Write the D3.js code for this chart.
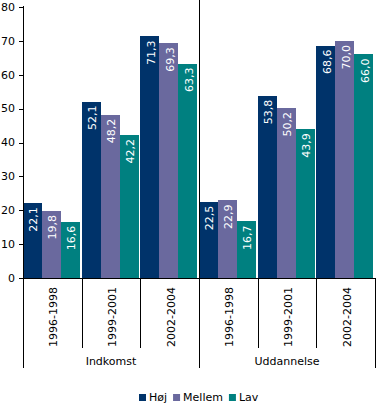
<!DOCTYPE html>
<html>
<head>
<meta charset="utf-8">
<script src="https://cdn.jsdelivr.net/npm/d3@7"></script>
<style>
  body { margin: 0; background: #ffffff; }
  svg { display: block; font-family: "DejaVu Sans", Verdana, sans-serif; }
</style>
</head>
<body>
<svg id="chart" width="380" height="404"></svg>
<script>
var groups = ["Indkomst", "Uddannelse"];
var periods = ["1996-1998", "1999-2001", "2002-2004"];
var series = ["Høj", "Mellem", "Lav"];
var colors = ["#00336a", "#6a699e", "#008080"];
var yTicks = [0, 10, 20, 30, 40, 50, 60, 70, 80];

// values per series, in order Indkomst x periods, then Uddannelse x periods
var hoj    = [22.1, 52.1, 71.3, 22.5, 53.8, 68.6];
var mellem = [19.8, 48.2, 69.3, 22.9, 50.2, 70.0];
var lav    = [16.6, 42.2, 63.3, 16.7, 43.9, 66.0];

var seriesValues = [hoj, mellem, lav];

var svg = d3.select("#chart");
// note: "top" is taken by window.top, so use plot* names
var plotLeft = 23, plotRight = 375, plotTop = 7, plotBottom = 278;

var categories = [];
groups.forEach(function(g) {
    periods.forEach(function(p) { categories.push(g + "|" + p); });
});

var x = d3.scaleBand().domain(categories).range([plotLeft, plotRight]);
var xs = d3.scaleBand().domain(series).range([0, x.bandwidth() - 1.5]);
var y = d3.scaleLinear().domain([0, 80]).range([plotBottom, plotTop]);

// bars
var barData = [];
categories.forEach(function(c, i) {
    series.forEach(function(s, j) {
        barData.push({cat: c, series: s, idx: j, value: seriesValues[j][i]});
    });
});

var bars = svg.append("g").selectAll("g")
  .data(barData)
  .enter()
  .append("g");

bars.append("rect")
    .attr("x", function(d) { return Math.round(x(d.cat) + xs(d.series)); })
    .attr("y", function(d) { return Math.round(y(d.value)); })
    .attr("width", function(d) { return Math.round(xs.bandwidth()); })
    .attr("height", function(d) { return plotBottom - Math.round(y(d.value)); })
    .attr("fill", function(d) { return colors[d.idx]; })
    .attr("shape-rendering", "crispEdges");

bars.append("text")
    .attr("transform", function(d) {
        var cx = x(d.cat) + xs(d.series) + xs.bandwidth() / 2 + 1;
        return "translate(" + cx + "," + (y(d.value) + 4) + ") rotate(-90)";
    })
    .attr("text-anchor", "end")
    .attr("dy", "0.35em")
    .attr("fill", "#ffffff")
    .style("font-size", "11px")
    .text(function(d) { return d.value.toFixed(1).replace(".", ","); });

// y axis
var yAxis = svg.append("g");
yAxis.append("line")
    .attr("x1", plotLeft + 0.5).attr("x2", plotLeft + 0.5)
    .attr("y1", plotTop - 1).attr("y2", 368)
    .attr("stroke", "#000");
yAxis.selectAll(".tick")
  .data(yTicks)
  .enter()
  .append("line")
    .attr("x1", plotLeft - 4).attr("x2", plotLeft)
    .attr("y1", function(d) { return Math.round(y(d)) + 0.5; })
    .attr("y2", function(d) { return Math.round(y(d)) + 0.5; })
    .attr("stroke", "#000");
yAxis.selectAll("text")
  .data(yTicks)
  .enter()
  .append("text")
    .attr("x", 15)
    .attr("y", function(d) { return y(d); })
    .attr("dy", "0.35em")
    .attr("text-anchor", "end")
    .style("font-size", "11px")
    .text(function(d) { return d; });

// x axis line
svg.append("line")
    .attr("x1", plotLeft).attr("x2", plotRight + 1)
    .attr("y1", plotBottom + 0.5).attr("y2", plotBottom + 0.5)
    .attr("stroke", "#000");

// separators between periods and groups
categories.forEach(function(c, i) {
    if (i == 0) return;
    var isGroup = (i % periods.length == 0);
    var xx = Math.round(x(c)) + 0.5;
    svg.append("line")
        .attr("x1", xx).attr("x2", xx)
        .attr("y1", isGroup ? 0 : plotBottom)
        .attr("y2", isGroup ? 368 : 348)
        .attr("stroke", "#000");
});
svg.append("line")
    .attr("x1", plotRight + 0.5).attr("x2", plotRight + 0.5)
    .attr("y1", plotBottom).attr("y2", 368)
    .attr("stroke", "#000");

// period labels
svg.append("g").selectAll("text")
  .data(categories)
  .enter()
  .append("text")
    .attr("transform", function(d) {
        return "translate(" + (x(d) + x.bandwidth() / 2 + 1) + ",287) rotate(-90)";
    })
    .attr("text-anchor", "end")
    .attr("dy", "0.35em")
    .style("font-size", "11px")
    .text(function(d) { return d.split("|")[1]; });

// group labels
svg.append("g").selectAll("text")
  .data(groups)
  .enter()
  .append("text")
    .attr("x", function(d, i) {
        var first = x(d + "|" + periods[0]);
        var last = x(d + "|" + periods[periods.length - 1]) + x.bandwidth();
        return (first + last) / 2;
    })
    .attr("y", 365)
    .attr("text-anchor", "middle")
    .style("font-size", "11px")
    .text(function(d) { return d; });

// legend
var legend = svg.append("g");
var lx = 139;
series.forEach(function(s, i) {
    legend.append("rect")
        .attr("x", lx).attr("y", 394)
        .attr("width", 7).attr("height", 7)
        .attr("fill", colors[i]);
    var t = legend.append("text")
        .attr("x", lx + 10).attr("y", 401)
        .style("font-size", "11px")
        .text(s);
    lx = lx + 10 + t.node().getComputedTextLength() + 6;
});
</script>
</body>
</html>
